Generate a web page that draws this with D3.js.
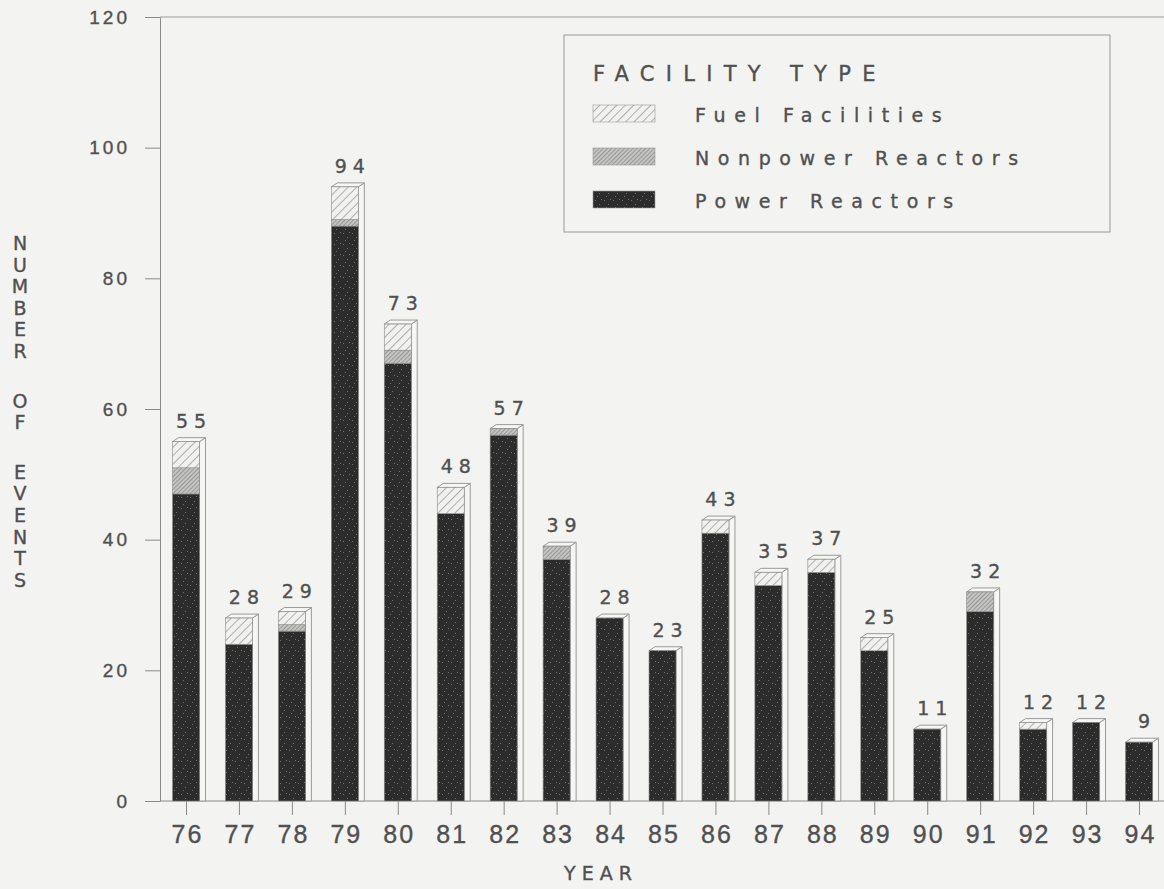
<!DOCTYPE html>
<html>
<head>
<meta charset="utf-8">
<script src="https://cdn.jsdelivr.net/npm/d3@7"></script>
<style>
  body { margin: 0; background: #f3f3f1; }
  svg { display: block; font-family: "DejaVu Sans", "Liberation Sans", sans-serif; }
  .axis path, .axis line { stroke: #8a8a8a; }
  .axis text { fill: #505050; }
  text { stroke: #505050; stroke-width: 0.35px; }
</style>
</head>
<body>
<script>
var years = ["76","77","78","79","80","81","82","83","84","85","86","87","88","89","90","91","92","93","94"];
var power    = [47,24,26,88,67,44,56,37,28,23,41,33,35,23,11,29,11,12,9];
var nonpower = [4, 0, 1, 1, 2, 0, 1, 2, 0, 0, 0, 0, 0, 0, 0, 3, 0, 0, 0];
var fuel     = [4, 4, 2, 5, 4, 4, 0, 0, 0, 0, 2, 2, 2, 2, 0, 0, 1, 0, 0];
var keys = ["power","nonpower","fuel"];
var legendLabels = ["Fuel Facilities","Nonpower Reactors","Power Reactors"];
var yTicks = [0,20,40,60,80,100,120];

var width = 1164, height = 889;
var x = d3.scalePoint().domain(years).range([186, 1139]);
var y = d3.scaleLinear().domain([0,120]).range([801, 17]);
var barW = 27, dx = 6, dy = 4;

var rows = years.map(function(yr,i){
  return {year: yr, power: power[i], nonpower: nonpower[i], fuel: fuel[i],
          total: power[i]+nonpower[i]+fuel[i]};
});
var series = d3.stack().keys(keys)(rows);

var svg = d3.select("body").append("svg")
  .attr("width", width).attr("height", height);

// patterns
var defs = svg.append("defs");
var pf = defs.append("pattern").attr("id","hatchFuel").attr("patternUnits","userSpaceOnUse")
  .attr("width",6).attr("height",6).attr("patternTransform","rotate(45)");
pf.append("rect").attr("width",6).attr("height",6).attr("fill","#f1f1ef");
pf.append("line").attr("x1",0).attr("y1",0).attr("x2",0).attr("y2",6)
  .attr("stroke","#8c8c8c").attr("stroke-width",1.3);
var pn = defs.append("pattern").attr("id","hatchNon").attr("patternUnits","userSpaceOnUse")
  .attr("width",3).attr("height",3).attr("patternTransform","rotate(45)");
pn.append("rect").attr("width",3).attr("height",3).attr("fill","#c4c4c2");
pn.append("line").attr("x1",0).attr("y1",0).attr("x2",0).attr("y2",3)
  .attr("stroke","#7a7a7a").attr("stroke-width",1.2);
var pp = defs.append("pattern").attr("id","speckle").attr("patternUnits","userSpaceOnUse")
  .attr("width",9).attr("height",11);
pp.append("rect").attr("width",9).attr("height",11).attr("fill","#2c2c2c");
[[1,2],[5,6],[7,1],[3,9]].forEach(function(p){
  pp.append("rect").attr("x",p[0]).attr("y",p[1]).attr("width",1).attr("height",1).attr("fill","#6e6e6e");
});
var fills = {power: "url(#speckle)", nonpower: "url(#hatchNon)", fuel: "url(#hatchFuel)"};

// frame lines
svg.append("line").attr("x1",160).attr("x2",width).attr("y1",y(120)).attr("y2",y(120))
  .attr("stroke","#9a9a9a");
svg.append("line").attr("x1",160).attr("x2",width).attr("y1",y(0)).attr("y2",y(0))
  .attr("stroke","#8a8a8a");

// y axis
var yAxis = svg.append("g").attr("class","axis").attr("transform","translate(160,0)")
  .call(d3.axisLeft(y).tickValues(yTicks).tickSize(15).tickSizeOuter(0).tickPadding(15));
yAxis.selectAll("text").style("font-size","19px").style("letter-spacing","3px");

// x axis
var xAxis = svg.append("g").attr("class","axis").attr("transform","translate(0,"+y(0)+")")
  .call(d3.axisBottom(x).tickSize(14).tickPadding(10));
xAxis.select(".domain").remove();
xAxis.selectAll("text").style("font-size","25px").style("letter-spacing","2px")
  .attr("dx","1px");

// bars (3D)
var bars = svg.append("g").selectAll("g").data(rows).enter().append("g");
bars.append("path")
  .attr("d", function(d){
    var x1 = x(d.year)+barW/2, yt = y(d.total), yb = y(0);
    return "M"+x1+","+yt+"L"+(x1+dx)+","+(yt-dy)+"L"+(x1+dx)+","+yb+"L"+x1+","+yb+"Z";
  })
  .attr("fill","#f6f6f4").attr("stroke","#9a9a9a").attr("stroke-width",1);
bars.append("path")
  .attr("d", function(d){
    var x0 = x(d.year)-barW/2, x1 = x0+barW, yt = y(d.total);
    return "M"+x0+","+yt+"L"+(x0+dx)+","+(yt-dy)+"L"+(x1+dx)+","+(yt-dy)+"L"+x1+","+yt+"Z";
  })
  .attr("fill","#f6f6f4").attr("stroke","#9a9a9a").attr("stroke-width",1);

svg.append("g").selectAll("g").data(series).enter().append("g")
  .attr("fill", function(s){ return fills[s.key]; })
  .selectAll("rect").data(function(s){ return s; }).enter().append("rect")
  .attr("x", function(d){ return x(d.data.year)-barW/2; })
  .attr("width", barW)
  .attr("y", function(d){ return y(d[1]); })
  .attr("height", function(d){ return y(d[0])-y(d[1]); })
  .attr("stroke", function(d){ return d[1]>d[0] ? "#8a8a8a" : "none"; })
  .attr("stroke-width",0.6);

// value labels
svg.append("g").selectAll("text").data(rows).enter().append("text")
  .attr("x", function(d){ return x(d.year)+dx/2+5; })
  .attr("y", function(d){ return y(d.total)-dy-10; })
  .attr("text-anchor","middle")
  .style("font-size","19px").style("letter-spacing","6px").attr("fill","#505050")
  .text(function(d){ return d.total; });

// axis titles
svg.append("text").attr("x",601).attr("y",880).attr("text-anchor","middle")
  .style("font-size","19px").style("letter-spacing","6px").attr("fill","#505050").text("YEAR");

var yTitle = "NUMBER OF EVENTS".split("");
var yt = svg.append("text").attr("text-anchor","middle").style("font-size","19px").attr("fill","#505050");
var cy = 250;
yTitle.forEach(function(ch){
  if (ch === " ") { cy += 28; return; }
  yt.append("tspan").attr("x",20).attr("y",cy).text(ch);
  cy += 21.6;
});

// legend
var lg = svg.append("g");
lg.append("rect").attr("x",564).attr("y",35).attr("width",546).attr("height",197)
  .attr("fill","none").attr("stroke","#999").attr("stroke-width",1);
lg.append("text").attr("x",593).attr("y",81).style("font-size","21px").style("letter-spacing","11.3px")
  .attr("fill","#505050").text("FACILITY TYPE");
var lkeys = ["fuel","nonpower","power"];
lkeys.forEach(function(k,i){
  lg.append("rect").attr("x",593).attr("y",105+i*43).attr("width",62).attr("height",17)
    .attr("fill",fills[k]).attr("stroke","#999").attr("stroke-width",0.6);
  lg.append("text").attr("x",695).attr("y",122+i*43).style("font-size","19px").style("letter-spacing","8.6px")
    .attr("fill","#505050").text(legendLabels[i]);
});
</script>
</body>
</html>
